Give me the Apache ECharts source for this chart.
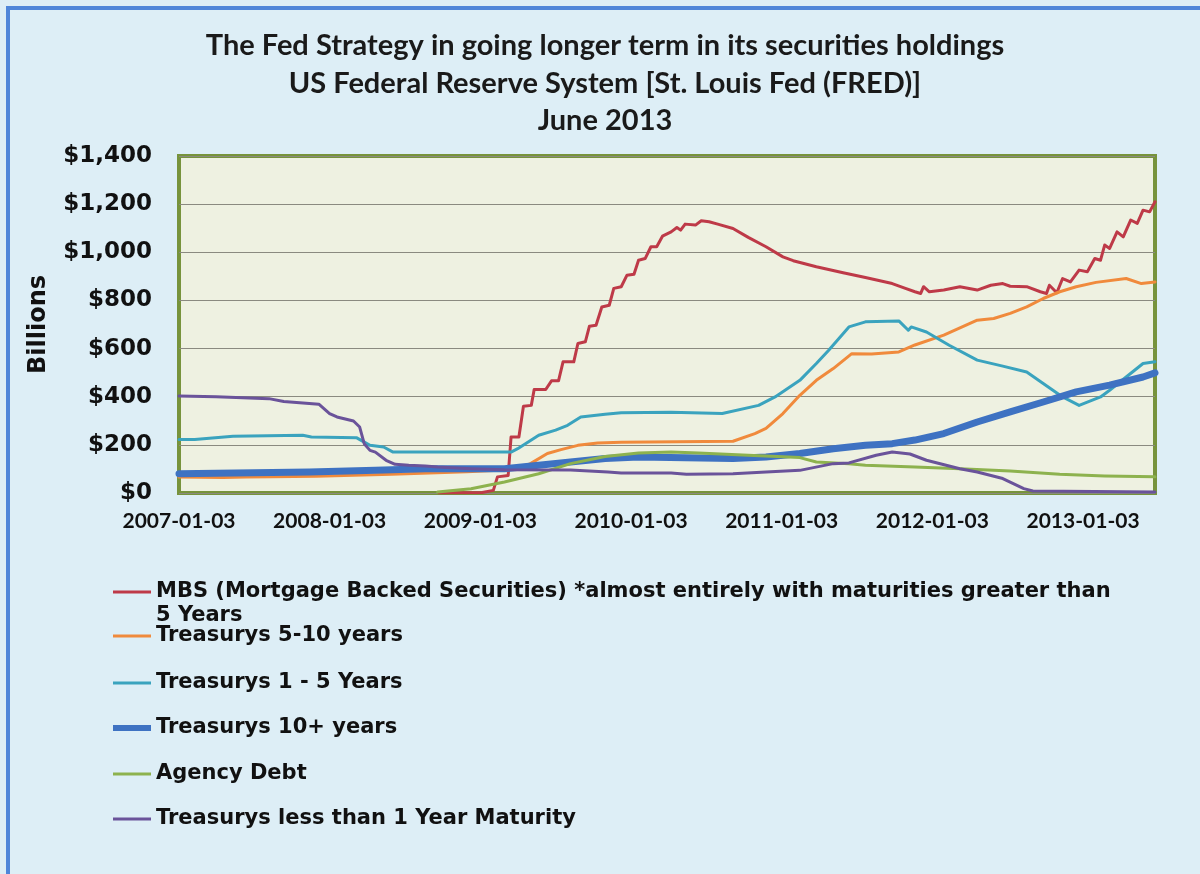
<!DOCTYPE html>
<html>
<head>
<meta charset="utf-8">
<script src="https://cdn.jsdelivr.net/npm/echarts@6/dist/echarts.min.js"></script>
<style>html,body{margin:0;padding:0;background:#DDEEF6;}#chart{width:1200px;height:874px;}</style>
</head>
<body>
<div id="chart"></div>
<script>
// ---------- DATA ----------
const titleLines = ['The Fed Strategy in going longer term in its securities holdings', 'US Federal Reserve System [St. Louis Fed (FRED)]', 'June 2013'];
const xTickLabels = ['2007-01-03','2008-01-03','2009-01-03','2010-01-03','2011-01-03','2012-01-03','2013-01-03'];
const yAxisName = 'Billions';
const startDate = '2007-01-03';
const endDate = '2013-06-26';

const seriesNames = [
  'MBS (Mortgage Backed Securities) *almost entirely with maturities greater than 5 Years',
  'Treasurys 5-10 years',
  'Treasurys 1 - 5 Years',
  'Treasurys 10+ years',
  'Agency Debt',
  'Treasurys less than 1 Year Maturity'
];

const mbsDates = ['2008-09-24','2009-01-07','2009-02-03','2009-02-13','2009-03-11','2009-03-18','2009-04-06','2009-04-17','2009-05-06','2009-05-13','2009-06-10','2009-06-24','2009-07-11','2009-07-22','2009-08-17','2009-08-27','2009-09-14','2009-09-24','2009-10-10','2009-10-24','2009-11-11','2009-11-22','2009-12-10','2009-12-24','2010-01-10','2010-01-21','2010-02-06','2010-02-20','2010-03-06','2010-03-20','2010-04-10','2010-04-24','2010-05-03','2010-05-14','2010-06-08','2010-06-22','2010-07-11','2010-08-01','2010-09-07','2010-10-14','2010-11-26','2011-01-06','2011-01-31','2011-03-28','2011-06-01','2011-07-25','2011-09-28','2011-10-30','2011-11-22','2011-12-06','2011-12-13','2011-12-27','2012-01-31','2012-03-10','2012-04-21','2012-05-24','2012-06-22','2012-07-10','2012-08-19','2012-09-21','2012-10-06','2012-10-13','2012-10-31','2012-11-14','2012-12-03','2012-12-24','2013-01-13','2013-01-31','2013-02-14','2013-02-24','2013-03-08','2013-03-26','2013-04-10','2013-04-28','2013-05-14','2013-05-28','2013-06-13','2013-06-26'];
const mbsValues = [0,2,11,67,73,233,233,360,364,430,430,466,466,545,545,621,628,693,697,773,780,850,857,905,909,967,974,1023,1023,1067,1085,1103,1092,1117,1113,1131,1127,1117,1099,1062,1023,981,965,940,915,895,870,850,836,829,857,836,843,857,843,863,870,859,857,836,829,863,832,891,877,926,919,974,967,1030,1016,1085,1064,1134,1120,1175,1168,1210];

const t510Dates = ['2007-01-03','2007-04-20','2007-06-15','2007-08-15','2007-12-01','2008-06-01','2008-12-01','2009-03-01','2009-04-10','2009-05-04','2009-06-14','2009-07-17','2009-08-27','2009-10-14','2009-12-10','2010-09-07','2010-10-30','2010-11-26','2011-01-06','2011-02-16','2011-03-28','2011-05-08','2011-06-22','2011-08-09','2011-10-14','2011-11-22','2012-01-31','2012-04-21','2012-05-31','2012-07-10','2012-08-19','2012-09-28','2012-11-07','2012-12-17','2013-02-03','2013-04-17','2013-05-24','2013-06-26'];
const t510Values = [66,64,66,67,70,78,88,96,105,122,164,180,198,208,211,215,247,268,330,406,468,517,579,577,586,615,656,718,725,746,773,808,836,857,875,891,870,877];

const t15Dates = ['2007-01-03','2007-02-10','2007-05-14','2007-10-30','2007-11-20','2008-03-08','2008-04-10','2008-05-13','2008-06-05','2008-08-22','2009-03-18','2009-04-03','2009-05-24','2009-07-04','2009-08-02','2009-09-03','2009-11-01','2009-12-10','2010-04-10','2010-08-12','2010-11-08','2010-12-18','2011-02-16','2011-03-28','2011-04-27','2011-06-15','2011-07-25','2011-10-14','2011-11-06','2011-11-13','2011-12-20','2012-02-13','2012-04-21','2012-06-22','2012-08-19','2012-09-28','2012-11-14','2012-12-24','2013-02-14','2013-03-08','2013-05-28','2013-06-26'];
const t15Values = [222,222,236,240,233,230,198,191,170,170,170,184,240,261,281,316,327,333,335,330,364,399,468,538,593,690,711,715,676,690,669,614,552,527,503,455,399,364,399,427,538,545];

const t10Dates = ['2007-01-03','2007-11-15','2008-04-23','2008-08-22','2009-03-02','2009-05-24','2009-08-09','2009-11-01','2010-01-21','2010-09-07','2010-11-26','2011-02-16','2011-05-08','2011-07-25','2011-09-28','2011-11-22','2012-01-31','2012-04-21','2012-07-10','2012-09-28','2012-12-17','2013-03-08','2013-05-28','2013-06-26'];
const t10Values = [80,87,94,101,101,115,129,143,150,143,150,164,184,198,205,220,247,295,337,378,420,448,482,499];

const agencyDates = ['2008-09-21','2008-12-11','2009-03-02','2009-05-24','2009-08-09','2009-11-01','2010-01-21','2010-04-10','2010-06-15','2010-10-14','2011-02-16','2011-03-28','2011-06-15','2011-07-25','2011-11-22','2012-03-10','2012-07-10','2012-11-07','2013-02-24','2013-06-26'];
const agencyValues = [4,18,46,80,122,152,166,170,166,157,147,129,122,115,108,101,91,78,71,67];

const billsDates = ['2007-01-03','2007-04-03','2007-08-09','2007-09-14','2007-12-08','2008-01-03','2008-01-21','2008-03-01','2008-03-16','2008-03-27','2008-04-10','2008-04-23','2008-05-19','2008-06-10','2008-07-13','2008-08-22','2008-09-21','2008-12-11','2009-03-02','2009-08-09','2009-11-08','2009-12-10','2010-04-10','2010-05-17','2010-09-07','2010-11-26','2011-02-16','2011-05-08','2011-06-15','2011-08-20','2011-09-28','2011-11-10','2011-12-20','2012-03-10','2012-04-21','2012-06-22','2012-08-12','2012-09-03','2013-06-26'];
const billsValues = [403,400,392,380,369,330,316,299,274,205,177,170,136,119,115,112,108,101,97,96,87,83,83,78,80,87,94,122,125,157,170,162,136,101,87,60,18,8,4];

const seriesColors = ['#BE3A48','#F08A3C','#3AA3BE','#3E72C2','#8DB24E','#6A539A'];

// ---------- BUILD ----------
const DAY = 86400000, YEAR = 365.25 * DAY;
function toT(s) { const p = s.split('-').map(Number); return (Date.UTC(p[0], p[1]-1, p[2]) - Date.UTC(2007,0,3)) / YEAR; }
function pairs(ds, vs) { return ds.map((d, i) => [toT(d), vs[i]]); }
const seriesData = [
  pairs(mbsDates, mbsValues), pairs(t510Dates, t510Values), pairs(t15Dates, t15Values),
  pairs(t10Dates, t10Values), pairs(agencyDates, agencyValues), pairs(billsDates, billsValues)
];
const widths = [3, 3, 3, 7, 3, 3];

const legendFont = { fontFamily: 'DejaVu Sans', fontWeight: 'bold', fontSize: 21, color: '#111', lineHeight: 24 };
const legendCenters = [592, 636, 683, 728, 774, 819];
const legends = seriesNames.map((n, i) => {
  const isFirst = i === 0;
  return {
    data: [n], orient: 'vertical', left: 113,
    top: isFirst ? legendCenters[0] - 36 : legendCenters[i] - 12,
    padding: 0, itemWidth: 38, itemHeight: i === 3 ? 6 : 3, itemGap: 0,
    icon: 'rect',
    selectedMode: false,
    formatter: isFirst ? (name) => ' \nMBS (Mortgage Backed Securities) *almost entirely with maturities greater than\n5 Years' : undefined,
    textStyle: legendFont
  };
});

const chart = echarts.init(document.getElementById('chart'), null, { renderer: 'canvas' });
chart.setOption({
  backgroundColor: '#DDEEF6',
  animation: false,
  title: {
    text: titleLines.join('\n'), left: 600, top: 22, textAlign: 'center',
    textStyle: { fontFamily: 'Lato', fontWeight: 'bold', fontSize: 29, lineHeight: 37.5, color: '#1A1A1A' }
  },
  graphic: [
    { type: 'line', shape: { x1: 8, y1: 8, x2: 1200, y2: 8 }, style: { stroke: '#4F86D9', lineWidth: 4 } },
    { type: 'line', shape: { x1: 8, y1: 6, x2: 8, y2: 874 }, style: { stroke: '#4F86D9', lineWidth: 4 } }
  ],
  legend: legends,
  grid: {
    left: 179, right: 45, top: 156, bottom: 381, show: true,
    backgroundColor: '#EEF1E1', borderColor: '#77933C', borderWidth: 4, containLabel: false
  },
  xAxis: {
    type: 'value', min: 0, max: toT(endDate), interval: 1,
    axisLine: { show: false }, axisTick: { show: false }, splitLine: { show: false },
    axisLabel: {
      margin: 18, showMaxLabel: false,
      formatter: (v) => { const i = Math.round(v); return (Math.abs(v - i) < 1e-6 && xTickLabels[i]) ? xTickLabels[i] : ''; },
      fontFamily: 'Lato', fontWeight: 'bold', fontSize: 21, color: '#111'
    }
  },
  yAxis: {
    type: 'value', min: 0, max: 1400, interval: 200,
    name: yAxisName, nameLocation: 'middle', nameGap: 128, nameRotate: 90,
    nameTextStyle: { fontFamily: 'DejaVu Sans', fontWeight: 'bold', fontSize: 24, color: '#111' },
    axisLine: { show: false }, axisTick: { show: false },
    splitLine: { show: true, lineStyle: { color: '#8A8A80', width: 1 } },
    axisLabel: {
      margin: 27,
      formatter: (v) => '$' + v.toLocaleString('en-US'),
      fontFamily: 'DejaVu Sans', fontWeight: 'bold', fontSize: 23, color: '#111'
    }
  },
  series: seriesNames.map((n, i) => ({
    name: n, type: 'line', data: seriesData[i], showSymbol: false, symbol: 'none',
    color: seriesColors[i],
    lineStyle: { width: widths[i], color: seriesColors[i], cap: 'round', join: 'round' },
    itemStyle: { color: seriesColors[i] }
  }))
});
</script>
</body>
</html>
